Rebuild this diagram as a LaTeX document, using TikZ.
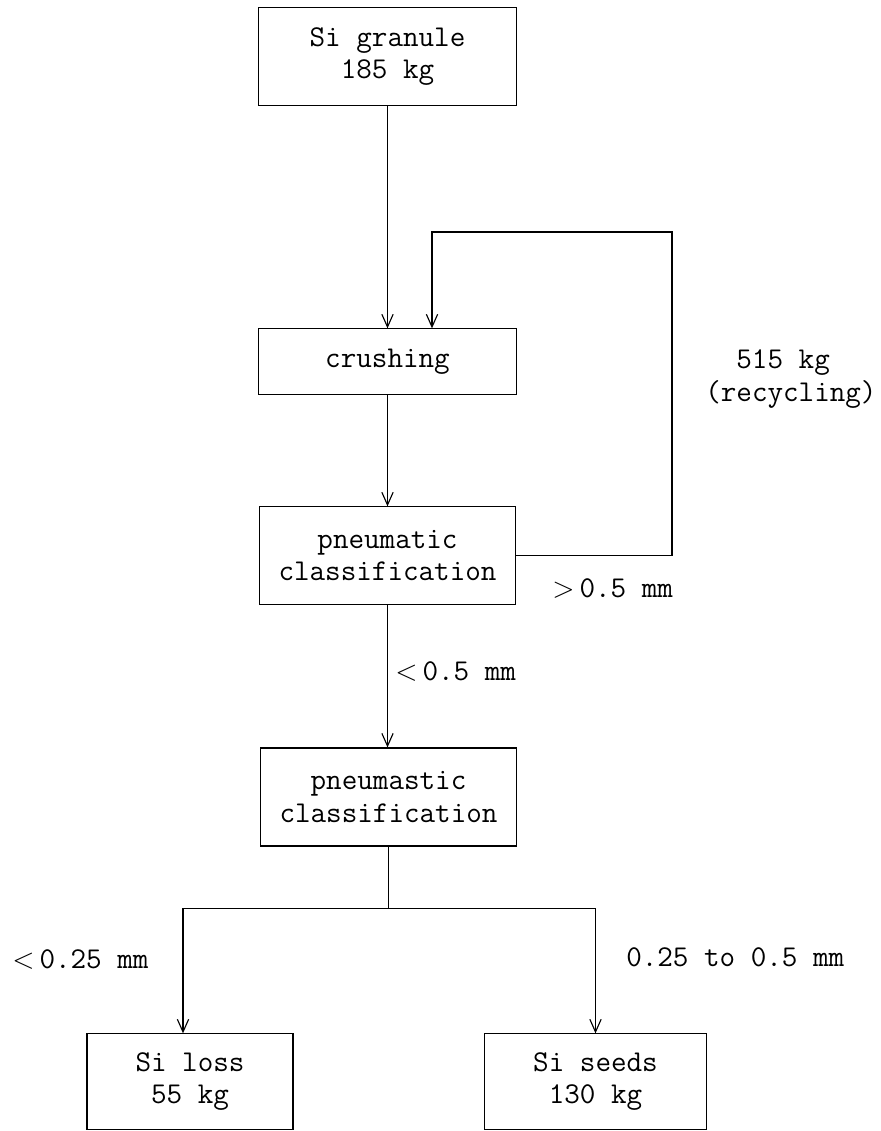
\documentclass[tikz,border=0pt]{standalone}
\usepackage{fontspec}
\usetikzlibrary{arrows.meta, positioning, calc}
\newcommand{\tyfont}{\ttfamily\fontsize{21.5}{23}\selectfont}

\begin{document}
\begin{tikzpicture}[x=0.025cm, y=-0.025cm,
    box/.style={draw, line width=0.8pt, inner sep=0pt, align=center, font=\tyfont},
    lbl/.style={inner sep=0pt, anchor=west, font=\tyfont},
    flow/.style={-{Straight Barb[length=9pt,width=8pt]}, line width=0.8pt}]
    \useasboundingbox (0,0) rectangle (881,1131);
    % Process boxes
    \node[box, minimum width=6.43cm, minimum height=2.43cm] (granule) at (387.5,56.5) {Si granule\\185 kg};
    \node[box, minimum width=6.43cm, minimum height=1.63cm] (crush) at (387.5,361.5) {crushing};
    \node[box, minimum width=6.4cm, minimum height=2.43cm] (pneu) at (387.5,555.5) {pneumatic\\classification};
    \node[box, minimum width=6.38cm, minimum height=2.45cm] (sep) at (388.5,797) {pneumastic\\classification};
    \node[box, minimum width=5.15cm, minimum height=2.38cm] (loss) at (190,1081.5) {Si loss\\55 kg};
    \node[box, minimum width=5.53cm, minimum height=2.38cm] (seeds) at (595.5,1081.5) {Si seeds\\130 kg};

    \draw[flow] (granule.south) -- (crush.north);
    \draw[flow] (crush.south) -- (pneu.north);
    \draw[flow] (pneu.south) -- (pneu.south |- sep.north);

    % Recycling loop
    \coordinate (rtop) at (672,232);
    \coordinate (loopin) at ($(crush.north)+(44.5,0)$);
    \draw[flow] (pneu.east) -| (rtop) -| (loopin);

    % Final split
    \coordinate (split) at ($(sep.south)+(0,62)$);
    \draw[line width=0.8pt] (sep.south) -- (split);
    \draw[flow] (split) -| ($(loss.north)+(-7,0)$);
    \draw[flow] (split) -| (seeds.north);

    % Labels
    \node[lbl, align=left] (recyc) at (705,379) {\phantom{xx}515 kg\\(recycling)};
    \node[lbl] (coarse) at (552,588) {$>$\,0.5 mm};
    \node[lbl] (fine) at (395,671) {$<$\,0.5 mm};
    \node[lbl] (dust) at (12,959) {$<$\,0.25 mm};
    \node[lbl] (seedsize) at (626,957) {0.25 to 0.5 mm};
\end{tikzpicture}
\end{document}
